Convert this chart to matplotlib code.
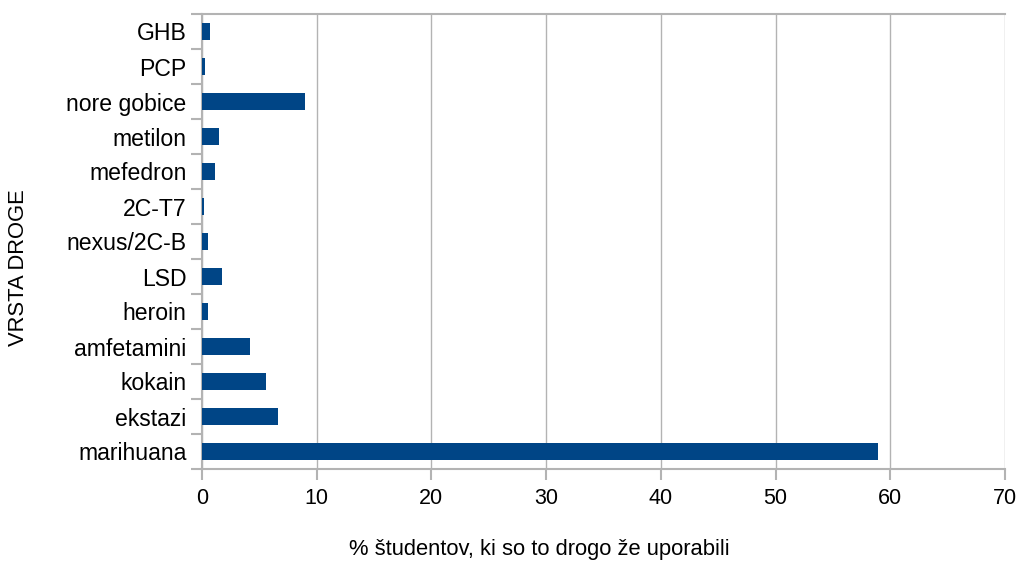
import matplotlib
matplotlib.use("Agg")
import matplotlib.pyplot as plt

# drug types, bottom to top as drawn
drugs = ['marihuana', 'ekstazi', 'kokain', 'amfetamini', 'heroin', 'LSD',
         'nexus/2C-B', '2C-T7', 'mefedron', 'metilon', 'nore gobice', 'PCP', 'GHB']
percent = [58.9, 6.6, 5.6, 4.2, 0.5, 1.7, 0.5, 0.2, 1.1, 1.5, 9.0, 0.3, 0.7]

plt.rcParams['font.family'] = ['Liberation Sans', 'DejaVu Sans']
grey = '#b3b3b3'

fig = plt.figure(figsize=(10.2, 5.65), dpi=100)
ax = fig.add_axes([202 / 1020, 1 - 469 / 565, (1005 - 202) / 1020, (469 - 14) / 565])

ax.barh(range(len(drugs)), percent, height=0.5, color='#004586', zorder=3)

ax.set_xlim(0, 70)
ax.set_ylim(-0.5, len(drugs) - 0.5)
ax.set_xticks(range(0, 71, 10))
ax.set_yticks(range(len(drugs)))
ax.set_yticklabels(drugs)
# category ticks sit between the bars
ax.set_yticks([i - 0.5 for i in range(len(drugs) + 1)], minor=True)
ax.tick_params(axis='y', which='major', length=0, pad=11, labelsize=16.6)
ax.tick_params(axis='y', which='minor', length=8, color=grey, width=1.5)
ax.tick_params(axis='x', length=8, color=grey, width=1.5, labelsize=15.5, pad=6)

ax.grid(axis='x', color=grey, linewidth=1, zorder=0)
for side in ['left', 'bottom', 'top']:
    ax.spines[side].set_color(grey)
    ax.spines[side].set_linewidth(1.5)
ax.spines['right'].set_visible(False)

# axis titles are centred on the whole chart area, not on the plot box
fig.text(539 / 1020, 1 - 549 / 565, '% študentov, ki so to drogo že uporabili',
         fontsize=15.8, ha='center', va='center')
fig.text(19 / 1020, 1 - 268 / 565, 'VRSTA DROGE', fontsize=15.8,
         rotation=90, ha='center', va='center')

fig.savefig('out.png', dpi=100)
